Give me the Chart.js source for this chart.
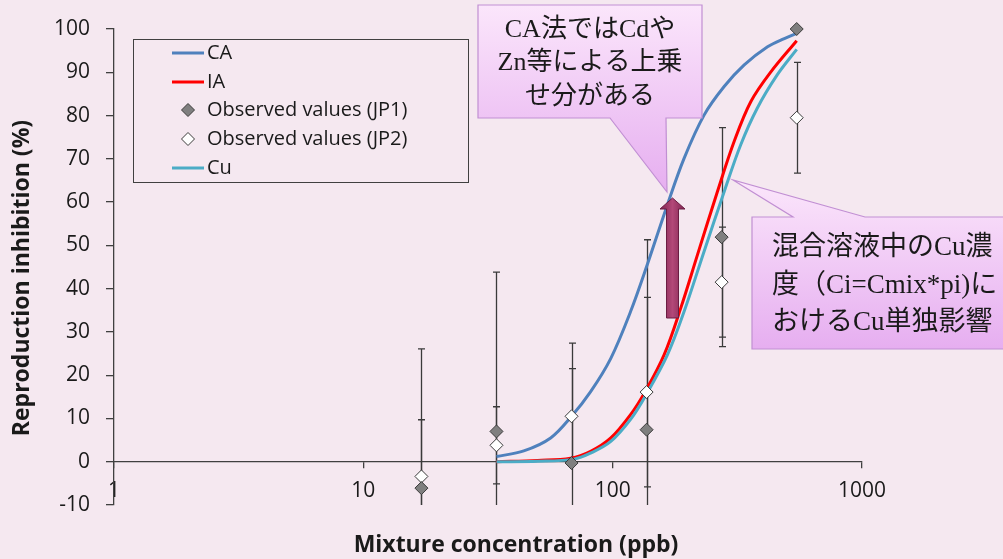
<!DOCTYPE html>
<html>
<head>
<meta charset="utf-8">
<script src="https://cdn.jsdelivr.net/npm/chart.js@4.4.1/dist/chart.umd.min.js"></script>
<style>
  html, body { margin: 0; padding: 0; background: #f5e8f0; }
  #wrap { width: 1003px; height: 559px; }
</style>
</head>
<body>
<div id="wrap"><canvas id="myChart" width="1003" height="559"></canvas></div>
<script>
// observed data (ppb, % inhibition, +/- error)
const concObs = [17.1, 34.2, 68.4, 136.8, 273.6, 547.2];
const jp1Values = [-6.1, 7.0, -0.3, 7.4, 51.9, 100];
const jp1Err = [15.8, 36.8, 27.7, 43.9, 25.3, 0];
const jp2Values = [-3.4, 3.8, 10.5, 16.1, 41.5, 79.5];
const jp2Err = [29.5, 8.9, 11.0, 21.9, 12.7, 12.8];

// model curves
const caConc = [34.2, 44.0, 56.4, 68.4, 81.6, 98.3, 118, 137.6, 165.8, 193.4, 232.6, 280, 337, 418, 488, 547.2];
const caValues = [1.2, 2.5, 5.5, 10.5, 16.2, 23.9, 34.7, 45.5, 59.4, 70.1, 80.1, 86.7, 91.7, 95.9, 97.8, 99.0];
const iaConc = [34.2, 50, 67.8, 81.6, 98.3, 118, 135, 160.8, 187.5, 218.8, 263, 307, 358, 431, 547.2];
const iaValues = [0, 0.3, 0.8, 2.4, 5.5, 10.9, 16.2, 24.7, 35.5, 47.8, 62.4, 74.0, 83.2, 90.1, 97.3];
const cuConc = [34.2, 50, 70, 81.6, 98.3, 118, 135, 165.8, 193.4, 232.6, 280, 326, 380, 457, 547.2];
const cuValues = [0, 0.1, 0.6, 2.0, 4.7, 9.8, 15.1, 24.7, 34.7, 48.6, 62.4, 73.2, 81.7, 89.4, 95.3];

const xTicks = [1, 10, 100, 1000];
const yMin = -10, yMax = 100, yStep = 10;

const legendLabels = ['CA', 'IA', 'Observed values (JP1)', 'Observed values (JP2)', 'Cu'];
const note1 = ['CA法ではCdや', 'Zn等による上乗', 'せ分がある'];
const note2 = ['混合溶液中のCu濃', '度（Ci=Cmix*pi)に', 'おけるCu単独影響'];
const xTitle = 'Mixture concentration (ppb)';
const yTitle = 'Reproduction inhibition (%)';

const pts = (xs, ys) => xs.map((x, i) => ({ x: x, y: ys[i] }));

const AXIS = '#404040';
const TEXT = '#1a1a1a';
const FONT = '"Open Sans"';

function drawErrorBars(ctx, chart, xs, ys, errs) {
    const xs_ = chart.scales.x, ys_ = chart.scales.y, a = chart.chartArea;
    ctx.save();
    ctx.beginPath();
    ctx.rect(a.left - 10, a.top - 10, a.right - a.left + 20, a.bottom - a.top + 10);
    ctx.clip();
    ctx.strokeStyle = '#3a3a3a';
    ctx.lineWidth = 1.3;
    xs.forEach((x, i) => {
        if (!errs[i]) return;
        const px = Math.round(xs_.getPixelForValue(x)) + 0.5;
        const top = ys_.getPixelForValue(ys[i] + errs[i]);
        const bot = ys_.getPixelForValue(ys[i] - errs[i]);
        ctx.beginPath();
        ctx.moveTo(px, top); ctx.lineTo(px, bot);
        ctx.moveTo(px - 3.5, top); ctx.lineTo(px + 3.5, top);
        ctx.moveTo(px - 3.5, bot); ctx.lineTo(px + 3.5, bot);
        ctx.stroke();
    });
    ctx.restore();
}

function drawCallout(ctx, poly, top, bottom) {
    const g = ctx.createLinearGradient(0, top, 0, bottom);
    g.addColorStop(0, '#fbe6fb');
    g.addColorStop(1, '#e6aef0');
    ctx.beginPath();
    poly.forEach((p, i) => i ? ctx.lineTo(p[0], p[1]) : ctx.moveTo(p[0], p[1]));
    ctx.closePath();
    ctx.fillStyle = g;
    ctx.fill();
    ctx.strokeStyle = '#c18fd3';
    ctx.lineWidth = 1.2;
    ctx.stroke();
}

const overlay = {
    id: 'overlay',
    beforeDatasetsDraw(chart) {
        const ctx = chart.ctx;
        drawErrorBars(ctx, chart, concObs, jp1Values, jp1Err);
        drawErrorBars(ctx, chart, concObs, jp2Values, jp2Err);
    },
    afterDraw(chart) {
        const ctx = chart.ctx;
        ctx.save();

        // legend
        ctx.strokeStyle = AXIS;
        ctx.lineWidth = 1;
        ctx.strokeRect(133.5, 39.5, 335, 143);
        const rows = [53, 82, 110, 139, 168];
        const ds = chart.data.datasets;
        ctx.font = '20px ' + FONT;
        ctx.textBaseline = 'middle';
        ctx.textAlign = 'left';
        ds.forEach((d, r) => {
            const y = rows[r];
            if (d.showLine) {
                ctx.strokeStyle = d.borderColor;
                ctx.lineWidth = 3;
                ctx.beginPath(); ctx.moveTo(172, y); ctx.lineTo(204, y); ctx.stroke();
            } else {
                ctx.beginPath();
                ctx.moveTo(188, y - 6.5); ctx.lineTo(194.5, y); ctx.lineTo(188, y + 6.5); ctx.lineTo(181.5, y);
                ctx.closePath();
                ctx.fillStyle = d.backgroundColor; ctx.fill();
                ctx.strokeStyle = d.borderColor; ctx.lineWidth = 1; ctx.stroke();
            }
            ctx.fillStyle = TEXT;
            ctx.fillText(legendLabels[r], 207, y);
        });

        // callouts
        drawCallout(ctx, [[478, 5], [702, 5], [702, 118], [666, 118], [667, 192], [610, 118], [478, 118]], 5, 192);
        drawCallout(ctx, [[752, 217], [793, 217], [733, 180], [865, 217], [1010, 217], [1010, 349], [752, 349]], 180, 349);

        ctx.fillStyle = TEXT;
        ctx.font = '26px "Liberation Serif", "Noto Sans CJK JP"';
        ctx.textAlign = 'center';
        [30, 63, 97].forEach((y, i) => ctx.fillText(note1[i], 590, y));
        ctx.font = '27px "Liberation Serif", "Noto Sans CJK JP"';
        ctx.textAlign = 'left';
        [248, 286, 323].forEach((y, i) => ctx.fillText(note2[i], 772, y));

        // arrow
        const ag = ctx.createLinearGradient(660, 0, 685, 0);
        ag.addColorStop(0, '#7e2450');
        ag.addColorStop(0.5, '#b34878');
        ag.addColorStop(1, '#7e2450');
        ctx.beginPath();
        ctx.moveTo(666.5, 318); ctx.lineTo(666.5, 209); ctx.lineTo(660, 209);
        ctx.lineTo(672.5, 198); ctx.lineTo(685, 209); ctx.lineTo(678.5, 209);
        ctx.lineTo(678.5, 318); ctx.closePath();
        ctx.fillStyle = ag; ctx.fill();
        ctx.strokeStyle = '#6b1c42'; ctx.lineWidth = 1; ctx.stroke();

        // axis titles
        ctx.fillStyle = TEXT;
        ctx.font = 'bold 23px ' + FONT;
        ctx.textAlign = 'center';
        ctx.textBaseline = 'middle';
        ctx.fillText(xTitle, 516, 545);
        ctx.translate(22, 278);
        ctx.rotate(-Math.PI / 2);
        ctx.fillText(yTitle, 0, 0);
        ctx.restore();
    }
};

Chart.defaults.font.family = FONT;
Chart.defaults.color = TEXT;

const ctx = document.getElementById('myChart').getContext('2d');
new Chart(ctx, {
    type: 'scatter',
    data: {
        datasets: [
            { label: 'CA', data: pts(caConc, caValues), showLine: true, borderColor: '#4f81bd', borderWidth: 3, pointRadius: 0, tension: 0.35, order: 3 },
            { label: 'IA', data: pts(iaConc, iaValues), showLine: true, borderColor: '#ff0000', borderWidth: 3, pointRadius: 0, tension: 0.35, order: 2 },
            { label: 'Observed values (JP1)', data: pts(concObs, jp1Values), showLine: false, pointStyle: 'rectRot', pointRadius: 6.5, backgroundColor: '#7f7f7f', borderColor: '#3a3a3a', borderWidth: 1, clip: false, order: 0 },
            { label: 'Observed values (JP2)', data: pts(concObs, jp2Values), showLine: false, pointStyle: 'rectRot', pointRadius: 6.5, backgroundColor: '#ffffff', borderColor: '#3a3a3a', borderWidth: 1, clip: false, order: 0 },
            { label: 'Cu', data: pts(cuConc, cuValues), showLine: true, borderColor: '#4bacc6', borderWidth: 3, pointRadius: 0, tension: 0.35, order: 1 }
        ]
    },
    options: {
        responsive: false,
        animation: false,
        events: [],
        layout: { padding: { left: 0, top: 29, right: 141, bottom: 54 } },
        plugins: { legend: { display: false }, tooltip: { enabled: false } },
        scales: {
            x: {
                type: 'logarithmic',
                min: 1,
                max: 1000,
                position: { y: 0 },
                afterBuildTicks: s => { s.ticks = xTicks.map(v => ({ value: v, major: true })); },
                ticks: { callback: v => String(v), font: { size: 21 }, padding: 11, maxRotation: 0, autoSkip: false, color: TEXT },
                grid: { drawOnChartArea: false, drawTicks: true, tickLength: 6, color: AXIS, lineWidth: 1.3 },
                border: { color: AXIS, width: 1.3 }
            },
            y: {
                min: yMin,
                max: yMax,
                afterFit: s => { s.width = 114; },
                ticks: { stepSize: yStep, font: { size: 21 }, padding: 16, color: TEXT },
                grid: { drawOnChartArea: false, drawTicks: true, tickLength: 8, color: AXIS, lineWidth: 1.3 },
                border: { color: AXIS, width: 1.3 }
            }
        }
    },
    plugins: [overlay]
});
</script>
</body>
</html>
